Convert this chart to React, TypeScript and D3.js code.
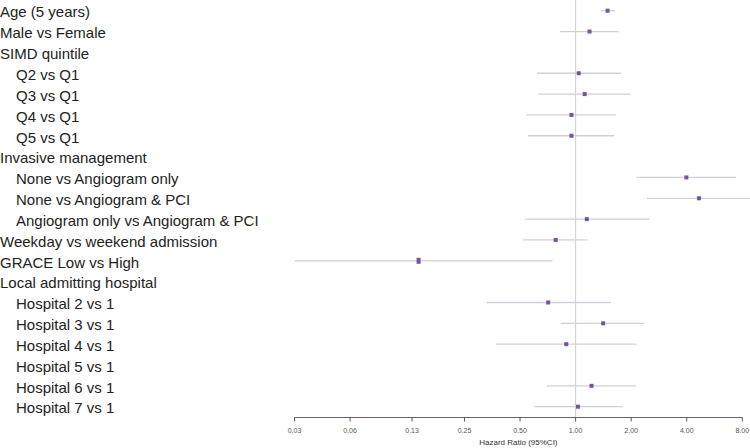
import React from "react";
import * as d3 from "d3";

const labels: string[] = [
  "Age (5 years)",
  "Male vs Female",
  "SIMD quintile",
  "Q2 vs Q1",
  "Q3 vs Q1",
  "Q4 vs Q1",
  "Q5 vs Q1",
  "Invasive management",
  "None vs Angiogram only",
  "None vs Angiogram & PCI",
  "Angiogram only vs Angiogram & PCI",
  "Weekday vs weekend admission",
  "GRACE Low vs High",
  "Local admitting hospital",
  "Hospital 2 vs 1",
  "Hospital 3 vs 1",
  "Hospital 4 vs 1",
  "Hospital 5 vs 1",
  "Hospital 6 vs 1",
  "Hospital 7 vs 1",
];
const indented: boolean[] = [
  false, false, false, true, true, true, true, false, true, true, true,
  false, false, false, true, true, true, true, true, true,
];
const hr: (number | null)[] = [
  1.49, 1.19, null, 1.04, 1.12, 0.95, 0.95, null, 3.98, 4.66, 1.15,
  0.78, 0.141, null, 0.71, 1.41, 0.89, null, 1.22, 1.03,
];
const lower: (number | null)[] = [
  1.37, 0.82, null, 0.62, 0.63, 0.54, 0.55, null, 2.14, 2.44, 0.53,
  0.52, 0.03, null, 0.33, 0.83, 0.37, null, 0.7, 0.6,
];
const upper: (number | null)[] = [
  1.64, 1.72, null, 1.77, 1.99, 1.66, 1.62, null, 7.4, 9.0, 2.52,
  1.16, 0.75, null, 1.55, 2.36, 2.14, null, 2.12, 1.79,
];
const tickValues: number[] = [0.03, 0.06, 0.13, 0.25, 0.5, 1, 2, 4, 8];

export default function App() {
  const W = 750;
  const H = 448;
  const x = d3.scaleLog().domain([0.03, 8]).range([294.5, 742.3]);
  const y = d3
    .scaleLinear()
    .domain([0, labels.length - 1])
    .range([10.7, 406.7]);
  const axisY = 417.5;
  const font = "Liberation Sans, Arial, Helvetica, sans-serif";

  return (
    <svg
      width={W}
      height={H}
      style={{ position: "absolute", left: 0, top: 0, background: "#fff" }}
    >
      <line
        x1={x(1)}
        x2={x(1)}
        y1={0}
        y2={axisY}
        stroke="#cfcfcf"
        strokeWidth={1}
      />
      {labels.map((l, i) => (
        <text
          key={"l" + i}
          x={indented[i] ? 16 : 0}
          y={y(i) + 1.5}
          dy="0.35em"
          fontFamily={font}
          fontSize={15}
          fill="#222"
        >
          {l}
        </text>
      ))}
      {hr.map((v, i) =>
        v == null || lower[i] == null || upper[i] == null ? null : (
          <g key={"p" + i}>
            <line
              x1={x(lower[i] as number)}
              x2={x(upper[i] as number)}
              y1={y(i)}
              y2={y(i)}
              stroke="#d2d0d6"
              strokeWidth={1.3}
            />
            <rect
              x={x(v) - 2}
              y={y(i) - (i === 12 ? 3 : 2)}
              width={4}
              height={i === 12 ? 6 : 4}
              fill="#73559f"
            />
          </g>
        )
      )}
      <line
        x1={x(0.03)}
        x2={x(8)}
        y1={axisY}
        y2={axisY}
        stroke="#666"
        strokeWidth={1.2}
      />
      {tickValues.map((t) => (
        <g key={"t" + t}>
          <line
            x1={x(t)}
            x2={x(t)}
            y1={axisY}
            y2={axisY + 4}
            stroke="#555"
            strokeWidth={1}
          />
          <text
            x={x(t)}
            y={axisY + 15}
            textAnchor="middle"
            fontFamily={font}
            fontSize={7}
            fill="#555"
          >
            {d3.format(".2f")(t)}
          </text>
        </g>
      ))}
      <text
        x={(x(0.03) + x(8)) / 2}
        y={445}
        textAnchor="middle"
        fontFamily={font}
        fontSize={8}
        fill="#333"
      >
        Hazard Ratio (95%CI)
      </text>
    </svg>
  );
}
